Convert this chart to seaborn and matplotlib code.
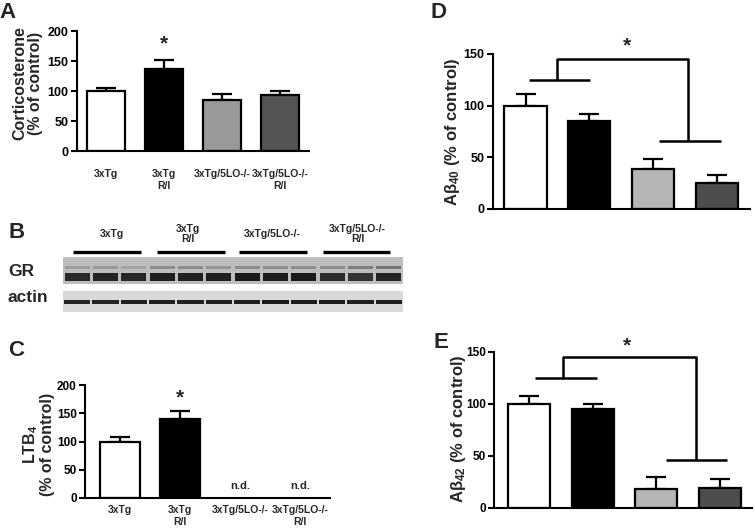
import numpy as np
import pandas as pd
import seaborn as sns
import matplotlib
matplotlib.use("Agg")
import matplotlib.pyplot as plt
from matplotlib.patches import Rectangle

# ---------------- data ----------------
groups = ["3xTg", "3xTg\nR/I", "3xTg/5LO-/-", "3xTg/5LO-/-\nR/I"]
cort_mean = [100, 137, 85, 93]
cort_err = [5, 15, 10, 7]
ltb4_groups = ["3xTg", "3xTg\nR/I"]
ltb4_mean = [100, 139]
ltb4_err = [8, 15]
ab40_mean = [100, 85, 39, 25]
ab40_err = [11, 7, 9, 8]
ab42_mean = [100, 95, 18, 19]
ab42_err = [8, 5, 12, 9]
colors_ac = ["#ffffff", "#000000", "#999999", "#545454"]
colors_de = ["#ffffff", "#000000", "#b5b5b5", "#4d4d4d"]
blot_groups = ["3xTg", "3xTg\nR/I", "3xTg/5LO-/-", "3xTg/5LO-/-\nR/I"]
gr_band_gray = [0.16, 0.14, 0.15, 0.12, 0.13, 0.12, 0.10, 0.11, 0.10, 0.17, 0.20, 0.14]
gr_upper_gray = [0.62, 0.60, 0.64, 0.55, 0.55, 0.58, 0.55, 0.56, 0.56, 0.55, 0.50, 0.45]
actin_band_gray = [0.14, 0.14, 0.12, 0.12, 0.13, 0.12, 0.12, 0.10, 0.11, 0.11, 0.12, 0.12]

# ---------------- style ----------------
sns.set_style("ticks")
plt.rcParams["font.family"] = ["Liberation Sans", "DejaVu Sans"]
plt.rcParams["font.weight"] = "bold"
plt.rcParams["axes.labelweight"] = "bold"
plt.rcParams["mathtext.fontset"] = "custom"
plt.rcParams["mathtext.rm"] = "Liberation Sans:bold"
plt.rcParams["mathtext.bf"] = "Liberation Sans:bold"
plt.rcParams["mathtext.default"] = "bf"

W, H = 755, 532
fig = plt.figure(figsize=(W / 100, H / 100), dpi=100)
fig.patch.set_facecolor("white")


def px_axes(x0, y0, x1, y1):
    return fig.add_axes([x0 / W, 1 - y1 / H, (x1 - x0) / W, (y1 - y0) / H])


def fxy(x, y):
    return x / W, 1 - y / H


def bar_panel(ax, cats, means, errs, colors, ylim, yticks, xlim, ylab_size=9):
    df = pd.DataFrame({"group": cats, "value": means})
    pal = dict(zip(groups, colors))
    sns.barplot(data=df, x="group", y="value", hue="group", order=groups,
                hue_order=groups, palette=pal, edgecolor="black", linewidth=1.6,
                width=0.66, errorbar=None, legend=False, saturation=1, ax=ax,
                zorder=2)
    n = len(means)
    ax.errorbar(np.arange(n), means, yerr=[np.zeros(n), errs], fmt="none",
                ecolor="black", elinewidth=1.6, capsize=7, capthick=1.6, zorder=1)
    ax.set_ylim(*ylim)
    ax.set_yticks(yticks)
    ax.set_xlim(*xlim)
    ax.set_xlabel("")
    ax.set_ylabel("")
    ax.set_facecolor("none")
    for s in ["top", "right"]:
        ax.spines[s].set_visible(False)
    for s in ["left", "bottom"]:
        ax.spines[s].set_linewidth(1.5)
        ax.spines[s].set_color("black")
    ax.tick_params(axis="y", length=4, width=1.5, labelsize=ylab_size, pad=2,
                   colors="black")
    ax.tick_params(axis="x", length=0)


# ---------------- Panel A ----------------
axA = px_axes(77, 31, 309, 151)
bar_panel(axA, groups, cort_mean, cort_err, colors_ac, (0, 200),
          [0, 50, 100, 150, 200], (-0.5, 3.5))
axA.tick_params(axis="x", labelsize=7.5, pad=13)
axA.text(1, 178, "*", ha="center", va="center", fontsize=15, fontweight="bold")
fig.text(*fxy(28, 83), "Corticosterone\n(% of control)", rotation=90,
         ha="center", va="center", fontsize=11.5, fontweight="bold",
         multialignment="center", linespacing=1.05)
fig.text(*fxy(8, 13), "A", ha="center", va="center", fontsize=16, fontweight="bold")

# ---------------- Panel B (western blot) ----------------
axBh = px_axes(63, 215, 403, 256)
axBh.set_xlim(0, 12)
axBh.set_ylim(256, 215)
axBh.set_axis_off()
line_spans = [(0.35, 2.76), (3.31, 5.71), (6.2, 8.61), (9.18, 11.54)]
label_x = [1.73, 4.4, 7.37, 10.4]
for (a, b), lx, g in zip(line_spans, label_x, blot_groups):
    axBh.plot([a, b], [252, 252], color="black", lw=2.4, solid_capstyle="butt")
    axBh.text(lx, 234, g, ha="center", va="center", fontsize=7.5,
              fontweight="bold", linespacing=1.0)

axGR = px_axes(63, 257, 403, 284)
axGR.set_xlim(0, 12)
axGR.set_ylim(0, 1)
axGR.set_axis_off()
axGR.add_patch(Rectangle((0, 0), 12, 1, color="#bdbdbd", lw=0))
for i, (g, u) in enumerate(zip(gr_band_gray, gr_upper_gray)):
    axGR.add_patch(Rectangle((i + 0.06, 0.12), 0.88, 0.3, color=str(g), lw=0))
    axGR.add_patch(Rectangle((i + 0.06, 0.55), 0.88, 0.1, color=str(u), lw=0))

axAct = px_axes(63, 291, 403, 312)
axAct.set_xlim(0, 12)
axAct.set_ylim(0, 1)
axAct.set_axis_off()
axAct.add_patch(Rectangle((0, 0), 12, 1, color="#d9d9d9", lw=0))
for i, g in enumerate(actin_band_gray):
    axAct.add_patch(Rectangle((i + 0.03, 0.38), 0.94, 0.2, color=str(g), lw=0))

fig.text(*fxy(8, 233), "B", ha="left", va="center", fontsize=16, fontweight="bold")
fig.text(*fxy(8, 271), "GR", ha="left", va="center", fontsize=12.5, fontweight="bold")
fig.text(*fxy(8, 298), "actin", ha="left", va="center", fontsize=12.5, fontweight="bold")

# ---------------- Panel C ----------------
axC = px_axes(85, 385, 330, 498)
bar_panel(axC, ltb4_groups, ltb4_mean, ltb4_err, colors_ac, (0, 200),
          [0, 50, 100, 150, 200], (-0.58, 3.5), ylab_size=8.5)
axC.tick_params(axis="x", labelsize=7.5, pad=5)
axC.text(1, 178, "*", ha="center", va="center", fontsize=15, fontweight="bold")
for xi in [2, 3]:
    axC.text(xi, 21, "n.d.", ha="center", va="center", fontsize=8, fontweight="bold")
fig.text(*fxy(38, 444), "LTB$_4$\n(% of control)", rotation=90,
         ha="center", va="center", fontsize=11.5, fontweight="bold",
         multialignment="center", linespacing=1.05)
fig.text(*fxy(16, 350), "C", ha="center", va="center", fontsize=16, fontweight="bold")

# ---------------- Panel D ----------------
axD = px_axes(493, 54, 750, 209)
bar_panel(axD, groups, ab40_mean, ab40_err, colors_de, (0, 150),
          [0, 50, 100, 150], (-0.51, 3.52), ylab_size=9)
axD.set_xticklabels([])
br = dict(color="black", lw=1.8, clip_on=False, solid_capstyle="butt")
axD.plot([0.05, 1.01], [125, 125], **br)
axD.plot([0.49, 0.49, 2.55, 2.55], [125, 145, 145, 66], **br)
axD.plot([2.09, 3.06], [66, 66], **br)
axD.text(1.59, 158, "*", ha="center", va="center", fontsize=15, fontweight="bold")
fig.text(*fxy(452, 132), "A\u03b2$_{40}$ (% of control)", rotation=90,
         ha="center", va="center", fontsize=12, fontweight="bold")
fig.text(*fxy(438, 12), "D", ha="center", va="center", fontsize=16, fontweight="bold")

# ---------------- Panel E ----------------
axE = px_axes(494, 352, 752, 508)
bar_panel(axE, groups, ab42_mean, ab42_err, colors_de, (0, 150),
          [0, 50, 100, 150], (-0.55, 3.5), ylab_size=8.5)
axE.set_xticklabels([])
axE.plot([0.09, 1.06], [125, 125], **br)
axE.plot([0.53, 0.53, 2.62, 2.62], [125, 145, 145, 46.5], **br)
axE.plot([2.15, 3.1], [46.5, 46.5], **br)
axE.text(1.53, 156, "*", ha="center", va="center", fontsize=15, fontweight="bold")
fig.text(*fxy(458, 429), "A\u03b2$_{42}$ (% of control)", rotation=90,
         ha="center", va="center", fontsize=12, fontweight="bold")
fig.text(*fxy(441, 343), "E", ha="center", va="center", fontsize=16, fontweight="bold")

fig.savefig("out.png", dpi=100, facecolor="white")
